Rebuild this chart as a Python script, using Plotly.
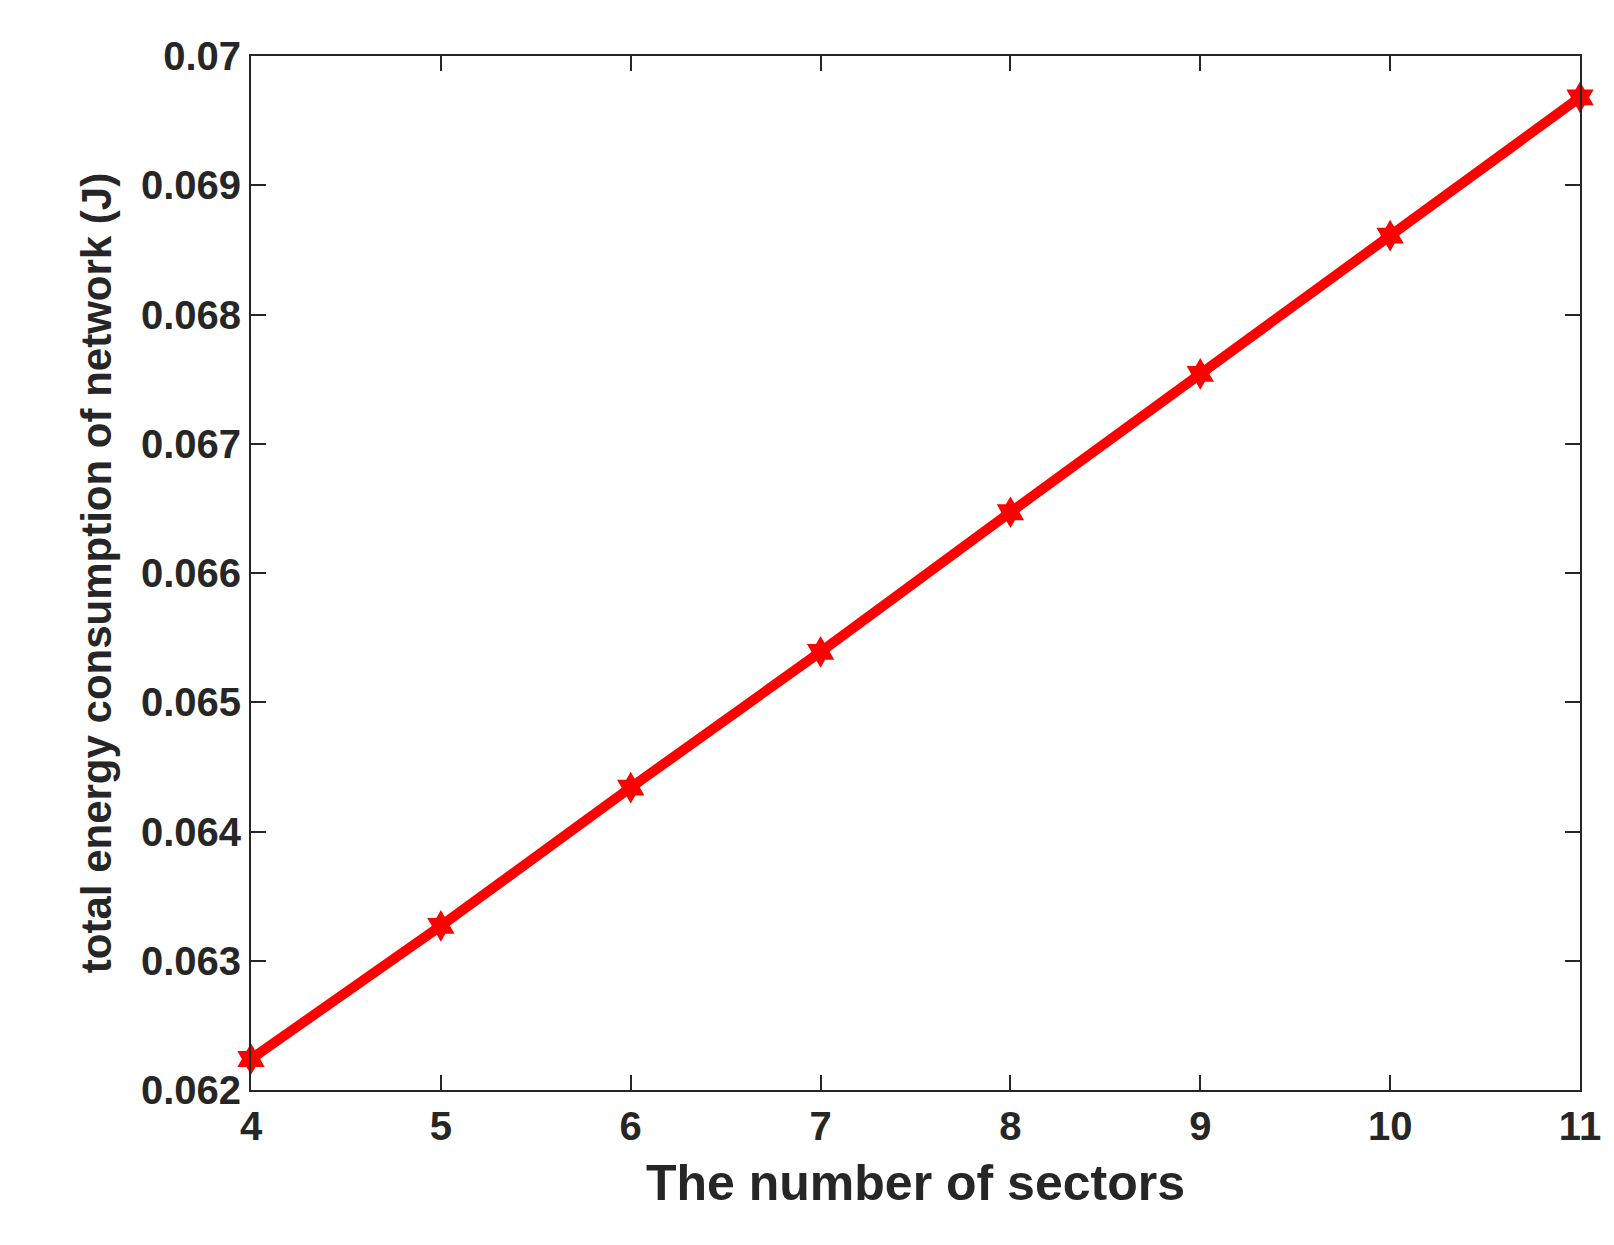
import plotly.graph_objects as go

sectors = [4, 5, 6, 7, 8, 9, 10, 11]
energy = [0.06224, 0.06327, 0.06434, 0.06539, 0.06647, 0.06754, 0.06861, 0.06968]

x_labels = ["4", "5", "6", "7", "8", "9", "10", "11"]
y_ticks = [0.062, 0.063, 0.064, 0.065, 0.066, 0.067, 0.068, 0.069, 0.07]
y_labels = ["0.062", "0.063", "0.064", "0.065", "0.066", "0.067", "0.068", "0.069", "0.07"]

fig = go.Figure(
    go.Scatter(
        x=sectors,
        y=energy,
        mode="lines+markers",
        line=dict(color="#ff0000", width=10),
        marker=dict(symbol="hexagram", size=24, color="#ff0000"),
        cliponaxis=False,
    )
)

axis_common = dict(
    showline=True,
    linecolor="#262626",
    linewidth=2,
    mirror="ticks",
    ticks="inside",
    ticklen=15,
    tickwidth=2,
    tickcolor="#262626",
    showgrid=False,
    zeroline=False,
    tickfont=dict(size=40, family="Liberation Sans", color="#262626"),
)

fig.update_layout(
    width=1614,
    height=1245,
    paper_bgcolor="white",
    plot_bgcolor="white",
    showlegend=False,
    margin=dict(l=243, r=42, t=48, b=163),
    font=dict(family="Liberation Sans", color="#262626"),
    xaxis=dict(
        **axis_common,
        range=[4, 11],
        tickvals=sectors,
        ticktext=[f"<b>{t}</b>" for t in x_labels],
        title=dict(text="<b>The number of sectors</b>", font=dict(size=50), standoff=18),
    ),
    yaxis=dict(
        **axis_common,
        range=[0.062, 0.07],
        tickvals=y_ticks,
        ticktext=[f"<b>{t}</b>" for t in y_labels],
        title=dict(text="<b>total energy consumption of network (J)</b>", font=dict(size=42), standoff=16),
    ),
)

fig.write_html("out.html")
